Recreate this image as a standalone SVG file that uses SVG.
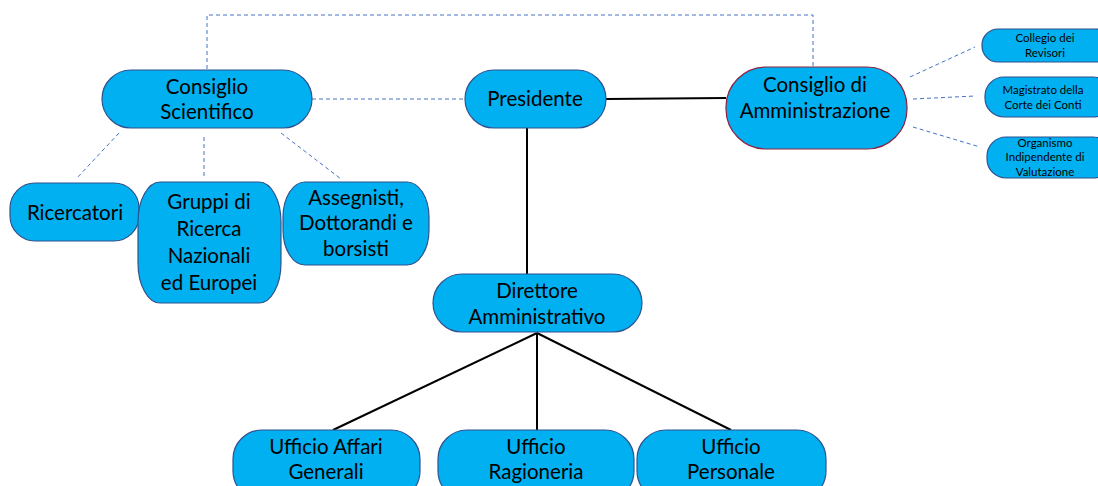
<svg xmlns="http://www.w3.org/2000/svg" width="1098" height="486" viewBox="0 0 1098 486">
<style>
.n{fill:#00B0F0;stroke:#2F528F;stroke-width:1.2}
.r{fill:#00B0F0;stroke:#8B2241;stroke-width:1.2}
.t{font-family:Lato,"Liberation Sans",sans-serif;font-size:20.5px;fill:#000;text-anchor:middle}
.s{font-family:Lato,"Liberation Sans",sans-serif;font-size:11.5px;fill:#000;text-anchor:middle}
.d{fill:none;stroke:#4472C4;stroke-width:1;stroke-dasharray:4 3}
.k{fill:none;stroke:#000;stroke-width:2}
</style>
<rect width="1098" height="486" fill="#fff"/>
<g id="connectors">
<polyline class="d" points="207,69 207,15 813,15 813,66"/>
<line class="d" x1="312" y1="99" x2="465" y2="99"/>
<line class="d" x1="119" y1="133" x2="76" y2="179"/>
<line class="d" x1="204" y1="137" x2="204" y2="179"/>
<line class="d" x1="281" y1="133" x2="341" y2="179"/>
<line class="d" x1="910" y1="77" x2="975" y2="47"/>
<line class="d" x1="913" y1="99" x2="975" y2="96"/>
<line class="d" x1="913" y1="127" x2="980" y2="147"/>
<line class="k" x1="606" y1="99" x2="726" y2="98"/>
<line class="k" x1="527" y1="128" x2="527" y2="275"/>
<line class="k" x1="537" y1="333" x2="333" y2="430"/>
<line class="k" x1="537" y1="333" x2="537" y2="430"/>
<line class="k" x1="537" y1="333" x2="731" y2="430"/>
</g>
<g id="consiglio-scientifico">
<rect class="n" x="102" y="70" width="210" height="58" rx="29"/>
<text class="t" x="207" y="94">Consiglio</text>
<text class="t" x="207" y="119">Scientifico</text>
</g>
<g id="presidente">
<rect class="n" x="465" y="70" width="141" height="58" rx="29"/>
<text class="t" x="535" y="106">Presidente</text>
</g>
<g id="consiglio-amministrazione">
<rect class="r" x="726" y="67" width="181" height="82" rx="40"/>
<text class="t" x="815" y="92">Consiglio di</text>
<text class="t" x="815" y="118">Amministrazione</text>
</g>
<g id="collegio-revisori">
<rect class="n" x="982" y="29" width="130" height="33" rx="16"/>
<text class="s" x="1045" y="42">Collegio dei</text>
<text class="s" x="1045" y="57">Revisori</text>
</g>
<g id="magistrato">
<rect class="n" x="985" y="77" width="127" height="40" rx="19"/>
<text class="s" x="1043" y="94">Magistrato della</text>
<text class="s" x="1043" y="109">Corte dei Conti</text>
</g>
<g id="organismo">
<rect class="n" x="987" y="137" width="125" height="41" rx="19"/>
<text class="s" x="1045" y="147">Organismo</text>
<text class="s" x="1045" y="161">Indipendente di</text>
<text class="s" x="1045" y="176">Valutazione</text>
</g>
<g id="ricercatori">
<rect class="n" x="10" y="183" width="129" height="58" rx="25"/>
<text class="t" x="75" y="220">Ricercatori</text>
</g>
<g id="gruppi">
<rect class="n" x="138" y="182" width="143" height="121" rx="22" ry="40"/>
<text class="t" x="209" y="209">Gruppi di</text>
<text class="t" x="209" y="236">Ricerca</text>
<text class="t" x="209" y="263">Nazionali</text>
<text class="t" x="209" y="290">ed Europei</text>
</g>
<g id="assegnisti">
<rect class="n" x="283" y="182" width="146" height="83" rx="22" ry="35"/>
<text class="t" x="356" y="205">Assegnisti,</text>
<text class="t" x="356" y="230">Dottorandi e</text>
<text class="t" x="356" y="256">borsisti</text>
</g>
<g id="direttore">
<rect class="n" x="433" y="274" width="209" height="58" rx="29"/>
<text class="t" x="537" y="298">Direttore</text>
<text class="t" x="537" y="324">Amministrativo</text>
</g>
<g id="ufficio-affari">
<rect class="n" x="233" y="430" width="187" height="70" rx="29"/>
<text class="t" x="326" y="454">Ufficio Affari</text>
<text class="t" x="326" y="479">Generali</text>
</g>
<g id="ufficio-ragioneria">
<rect class="n" x="438" y="430" width="196" height="70" rx="29"/>
<text class="t" x="536" y="454">Ufficio</text>
<text class="t" x="536" y="479">Ragioneria</text>
</g>
<g id="ufficio-personale">
<rect class="n" x="637" y="430" width="189" height="70" rx="29"/>
<text class="t" x="731" y="454">Ufficio</text>
<text class="t" x="731" y="479">Personale</text>
</g>
</svg>
